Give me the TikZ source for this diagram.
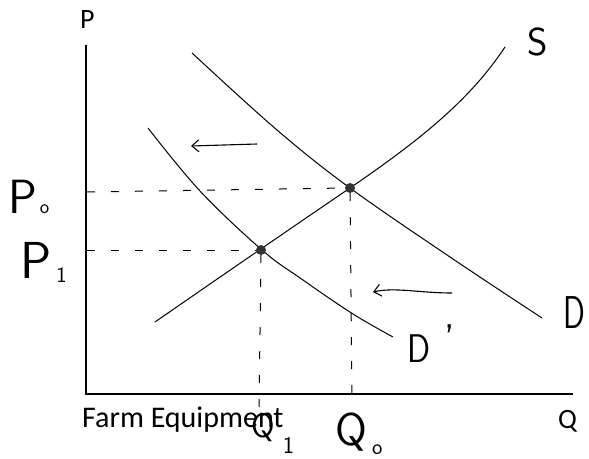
\documentclass[tikz,border=0pt]{standalone}
\usepackage{fontspec}
\usepackage{graphicx}
\usetikzlibrary{arrows.meta}
\newfontfamily\calib{Carlito}
\newcommand\hand{\sffamily}
\begin{document}
\begin{tikzpicture}[x=1pt,y=-1pt,
  axis/.style={line width=1.4pt,black},
  curve/.style={line width=1pt,black},
  guide/.style={line width=1pt,dash pattern=on 8pt off 16pt},
  shiftarrow/.style={line width=1.1pt,-{Straight Barb[length=7pt,width=12pt]}},
  lab/.style={font=\calib\fontsize{28}{30}\selectfont,anchor=base west,inner sep=0pt},
  hlab/.style={anchor=base west,inner sep=0pt},
  eq/.style={circle,fill=black!80,inner sep=0pt,minimum size=10pt}]
\useasboundingbox (0,0) rectangle (589,458);
% axes
\coordinate (O) at (86,394);
\coordinate (Ytop) at (86,45);
\coordinate (Xend) at (573,394);
\draw[axis] (Ytop) -- (O) -- (Xend);
\node[lab] (Plab) at (80,28) {P};
\node[lab] (Qlab) at (558,428) {Q};
\node[lab,font=\calib\fontsize{30}{32}\selectfont] (farm) at (82,427) {Farm Equipment};
% curves
\draw[curve] (155,322) .. controls (220,277) and (300,222) .. (350,188)
   .. controls (420,140) and (470,100) .. (505,47);
\draw[curve] plot[smooth,tension=0.6] coordinates {(192,53) (277,130) (350,188) (450,257) (542,318)};
\draw[curve] plot[smooth,tension=0.6] coordinates {(148,128) (200,191) (262,250) (303,280) (353,314) (393,337)};
\node[eq] (E0) at (350,188) {};
\node[eq] (E1) at (261,250) {};
% guides
\coordinate (P0) at (87,192);
\coordinate (P1) at (87,250);
\coordinate (Q0) at (352,396);
\coordinate (Q1) at (259,410);
\draw[guide] (P0) -- (E0.west);
\draw[guide] (P1) -- (E1.west);
\draw[guide] (E0.south) -- (Q0);
\draw[guide] (E1.south) -- (Q1);
% shift arrows
\coordinate (a1s) at (257,144);
\coordinate (a1e) at (191,146);
\coordinate (a2s) at (452,293);
\coordinate (a2e) at (373,292);
\draw[shiftarrow] (a1s) -- (a1e);
\draw[shiftarrow] (a2s) .. controls (420,293) and (395,287) .. (a2e);
% labels
\node[hlab,font=\hand\fontsize{39}{40}\selectfont] (Slab) at (527,55) {S};
\node[hlab,font=\hand\fontsize{46}{48}\selectfont] (Dlab) at (563,328) {\scalebox{0.7}[1]{D}};
\node[hlab,font=\hand\fontsize{40}{42}\selectfont] (Dplab) at (407,362) {\scalebox{0.85}[1]{D}\kern14pt\raisebox{10pt}{'}};
\node[hlab,font=\hand\fontsize{48}{50}\selectfont] (P0lab) at (8,213) {P\kern3pt{\fontsize{20}{20}\selectfont o}};
\node[hlab,font=\hand\fontsize{52}{54}\selectfont] (P1lab) at (20,278) {P\kern5pt\raisebox{-4pt}{\fontsize{22}{22}\selectfont 1}};
\node[hlab,font=\hand\fontsize{34}{36}\selectfont] (Q1lab) at (251,437) {Q\kern8pt\raisebox{-16pt}{\fontsize{24}{24}\selectfont 1}};
\node[hlab,font=\hand\fontsize{46}{48}\selectfont] (Q0lab) at (335,445) {Q\kern5pt\raisebox{-9pt}{\fontsize{22}{22}\selectfont o}};
\end{tikzpicture}
\end{document}
